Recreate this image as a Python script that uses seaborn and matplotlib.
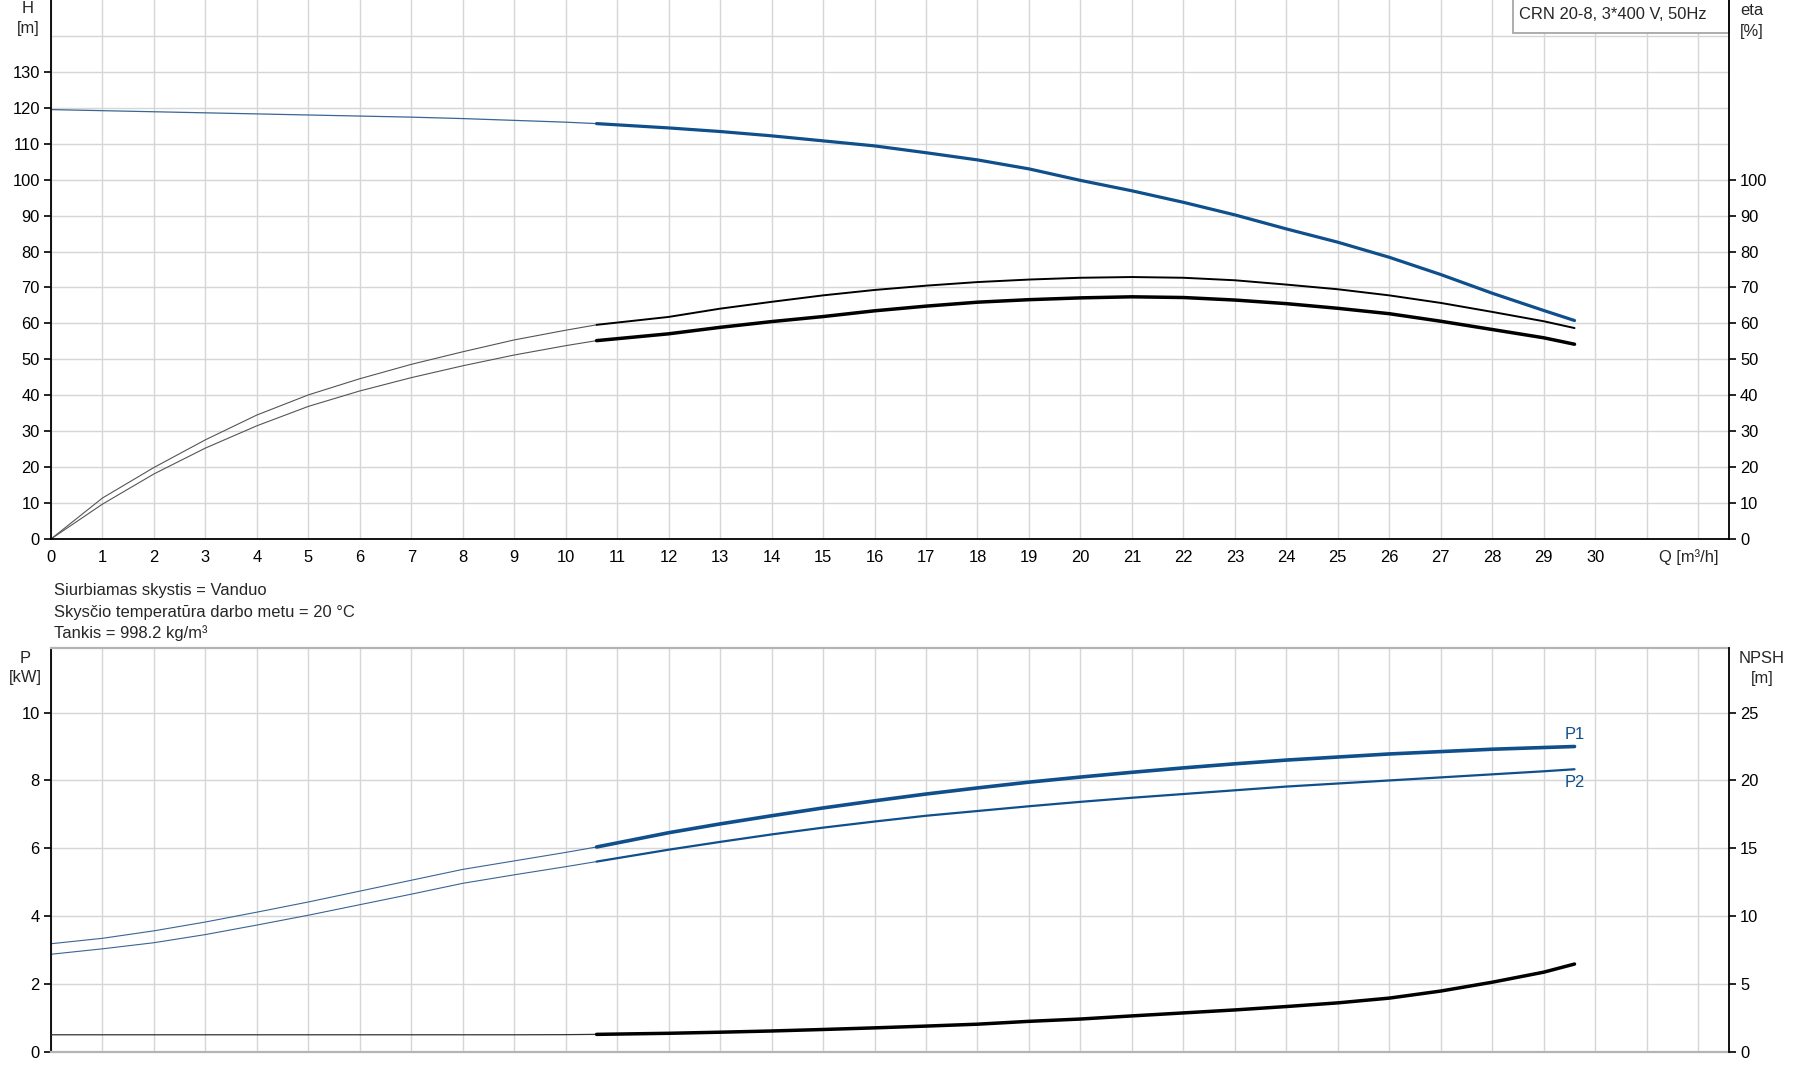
import numpy as np
import pandas as pd
import matplotlib
matplotlib.use("Agg")
import matplotlib.pyplot as plt
import matplotlib.transforms as mtransforms
from matplotlib.patches import Rectangle
import seaborn as sns

sns.set_style("white")
plt.rcParams['font.family'] = ['Liberation Sans', 'DejaVu Sans']
plt.rcParams['font.size'] = 11.9

# --- data ---
q_top = [0, 1, 2, 3, 4, 5, 6, 7, 8, 9, 10, 10.6, 12, 13, 14, 15, 16, 17, 18, 19, 20,
         21, 22, 23, 24, 25, 26, 27, 28, 29, 29.6]
head = [119.5, 119.2, 118.9, 118.6, 118.3, 118.0, 117.7, 117.4, 117.0, 116.5, 116.0, 115.6,
        114.4, 113.4, 112.2, 110.8, 109.4, 107.5, 105.5, 103.0, 99.8,
        96.9, 93.7, 90.2, 86.3, 82.6, 78.4, 73.6, 68.4, 63.6, 60.8]
eta_upper = [0, 11.4, 19.9, 27.6, 34.5, 40.1, 44.6, 48.6, 52.1, 55.4, 58.1, 59.6,
             61.8, 64.1, 66.0, 67.8, 69.3, 70.5, 71.5, 72.2, 72.7,
             72.9, 72.7, 72.0, 70.8, 69.5, 67.8, 65.7, 63.2, 60.6, 58.7]
eta_lower = [0, 9.7, 18.1, 25.3, 31.5, 36.9, 41.2, 44.9, 48.2, 51.2, 53.8, 55.2,
             57.1, 58.9, 60.5, 61.9, 63.5, 64.8, 65.9, 66.6, 67.1,
             67.4, 67.2, 66.5, 65.5, 64.2, 62.7, 60.6, 58.3, 56.0, 54.2]

q_bot = [0, 1, 2, 3, 4, 5, 6, 7, 8, 9, 10, 10.6, 12, 13, 14, 15, 16, 17, 18, 19, 20,
         21, 22, 23, 24, 25, 26, 27, 28, 29, 29.6]
p1 = [3.19, 3.35, 3.57, 3.83, 4.12, 4.42, 4.74, 5.06, 5.38, 5.63, 5.88, 6.04,
      6.46, 6.72, 6.96, 7.19, 7.40, 7.60, 7.78, 7.95, 8.10,
      8.24, 8.37, 8.49, 8.60, 8.69, 8.78, 8.85, 8.92, 8.97, 9.00]
p2 = [2.88, 3.04, 3.22, 3.46, 3.74, 4.03, 4.34, 4.65, 4.97, 5.22, 5.46, 5.61,
      5.96, 6.19, 6.41, 6.61, 6.79, 6.96, 7.10, 7.24, 7.37,
      7.49, 7.60, 7.71, 7.82, 7.91, 8.00, 8.09, 8.18, 8.27, 8.33]
npsh = [1.27, 1.27, 1.27, 1.27, 1.27, 1.27, 1.27, 1.27, 1.27, 1.27, 1.28, 1.30,
        1.38, 1.46, 1.55, 1.66, 1.78, 1.91, 2.05, 2.26, 2.43,
        2.66, 2.88, 3.10, 3.35, 3.62, 3.97, 4.49, 5.14, 5.88, 6.48]

q_split = 10.6  # start of the recommended (thick) range
x_ticks = list(range(0, 33))
x_labels = [str(i) for i in range(0, 31)] + ['', '']
title_text = "CRN 20-8, 3*400 V, 50Hz"
info_lines = ["Siurbiamas skystis = Vanduo",
              "Skysčio temperatūra darbo metu = 20 °C",
              "Tankis = 998.2 kg/m³"]

blue = '#0f4f8c'
grid_c = '#d6d6d6'

top = pd.DataFrame({'q': q_top, 'H': head, 'eta1': eta_upper, 'eta2': eta_lower})
bot = pd.DataFrame({'q': q_bot, 'P1': p1, 'P2': p2, 'NPSH': npsh})


def seg(df, thick):
    return df[df.q >= q_split] if thick else df[df.q <= q_split]


fig = plt.figure(figsize=(17.95, 10.81), dpi=100)
ax = fig.add_axes([0.0284, 0.5014, 0.9348, 0.4986])
axb = fig.add_axes([0.0284, 0.0268, 0.9348, 0.3737])

# ---------- top panel: H and eta ----------
ax.set_xlim(0, 32.6)
ax.set_ylim(0, 150)
ax.set_xticks(x_ticks)
ax.set_xticklabels(x_labels)
ax.set_yticks(range(0, 140, 10))
ax.grid(True, color=grid_c, lw=1)
ax.axhline(140, color=grid_c, lw=1, zorder=0)
ax.set_axisbelow(True)

sns.lineplot(data=seg(top, False), x='q', y='H', ax=ax, color='#3a6594', lw=0.9)
sns.lineplot(data=seg(top, True), x='q', y='H', ax=ax, color=blue, lw=2.3)
sns.lineplot(data=seg(top, False), x='q', y='eta1', ax=ax, color='#555555', lw=0.8)
sns.lineplot(data=seg(top, True), x='q', y='eta1', ax=ax, color='black', lw=1.4)
sns.lineplot(data=seg(top, False), x='q', y='eta2', ax=ax, color='#555555', lw=0.8)
sns.lineplot(data=seg(top, True), x='q', y='eta2', ax=ax, color='black', lw=2.5)
ax.set_xlabel('')
ax.set_ylabel('')

for s in ['left', 'bottom']:
    ax.spines[s].set_color('black')
    ax.spines[s].set_linewidth(1.3)
ax.spines['top'].set_visible(False)
ax.spines['right'].set_visible(False)
ax.tick_params(direction='out', length=5, width=1.2, colors='black', pad=3)

axr = ax.twinx()
axr.set_ylim(0, 150)
axr.set_yticks(range(0, 110, 10))
for s in ['left', 'bottom', 'top']:
    axr.spines[s].set_visible(False)
axr.spines['right'].set_color('black')
axr.spines['right'].set_linewidth(1.3)
axr.tick_params(direction='out', length=5, width=1.2, colors='black', pad=3)

trans = mtransforms.blended_transform_factory(ax.transData, ax.transAxes)
ax.text(32.39, -0.0334, "Q [m³/h]", transform=trans, ha='right', va='center')

ax.add_patch(Rectangle((0.8713, 0.9388), 0.1287, 0.07, transform=ax.transAxes,
                       fc='white', ec='#a0a0a0', lw=1.2, clip_on=False, zorder=5))
ax.text(0.8749, 0.974, title_text, transform=ax.transAxes, ha='left', va='center', zorder=6)

# ---------- bottom panel: P1, P2, NPSH ----------
axb.set_xlim(0, 32.6)
axb.set_ylim(0, 11.9)
axb.set_xticks(x_ticks)
axb.set_xticklabels([])
axb.set_yticks(range(0, 12, 2))
axb.grid(True, color=grid_c, lw=1)
axb.set_axisbelow(True)

sns.lineplot(data=seg(bot, False), x='q', y='P1', ax=axb, color='#3a6594', lw=0.8)
sns.lineplot(data=seg(bot, True), x='q', y='P1', ax=axb, color=blue, lw=2.6)
sns.lineplot(data=seg(bot, False), x='q', y='P2', ax=axb, color='#3a6594', lw=0.8)
sns.lineplot(data=seg(bot, True), x='q', y='P2', ax=axb, color=blue, lw=1.6)
axb.set_xlabel('')
axb.set_ylabel('')
axb.text(29.6, 9.35, "P1", color=blue, ha='center', va='center')
axb.text(29.6, 7.94, "P2", color=blue, ha='center', va='center')

axb.spines['left'].set_color('black')
axb.spines['left'].set_linewidth(1.3)
for s in ['bottom', 'top']:
    axb.spines[s].set_color('#b4b4b4')
    axb.spines[s].set_linewidth(1.6)
axb.spines['right'].set_visible(False)
axb.tick_params(axis='y', direction='out', length=5, width=1.2, colors='black', pad=3)
axb.tick_params(axis='x', length=0)

axn = axb.twinx()
axn.set_ylim(0, 29.75)
axn.set_yticks(range(0, 30, 5))
sns.lineplot(data=seg(bot, False), x='q', y='NPSH', ax=axn, color='#333333', lw=0.9)
sns.lineplot(data=seg(bot, True), x='q', y='NPSH', ax=axn, color='black', lw=2.5)
axn.set_xlabel('')
axn.set_ylabel('')
for s in ['left', 'bottom', 'top']:
    axn.spines[s].set_visible(False)
axn.spines['right'].set_color('black')
axn.spines['right'].set_linewidth(1.3)
axn.tick_params(direction='out', length=5, width=1.2, colors='black', pad=3)

# ---------- axis unit labels and info text ----------
fig.text(0.0156, 0.9917, "H", ha='center', va='center')
fig.text(0.0156, 0.9732, "[m]", ha='center', va='center')
fig.text(0.976, 0.9907, "eta", ha='center', va='center')
fig.text(0.976, 0.9704, "[%]", ha='center', va='center')
fig.text(0.0139, 0.3913, "P", ha='center', va='center')
fig.text(0.0139, 0.3737, "[kW]", ha='center', va='center')
fig.text(0.9816, 0.3913, "NPSH", ha='center', va='center')
fig.text(0.9816, 0.3719, "[m]", ha='center', va='center')
for i, line in enumerate(info_lines):
    fig.text(0.0301, 0.4533 - i * 0.0195, line, ha='left', va='center')

fig.savefig("out.png", dpi=100)
